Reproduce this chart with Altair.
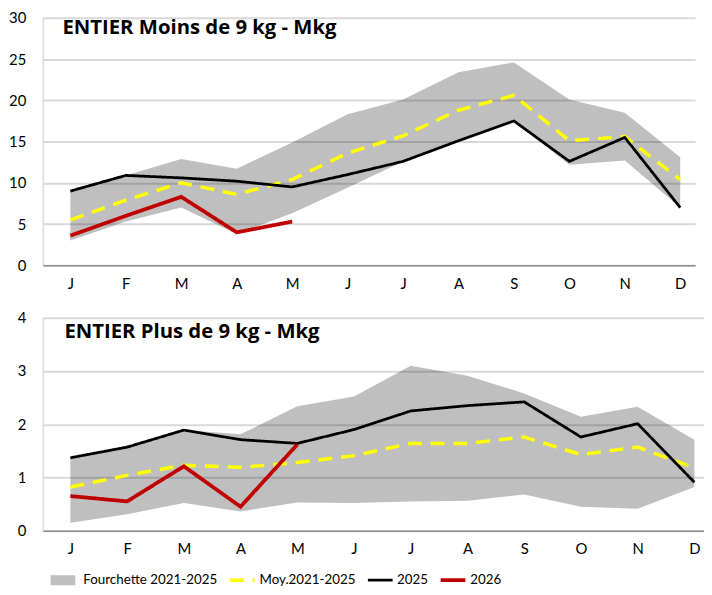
import altair as alt
import pandas as pd

months = ['J', 'F', 'M', 'A', 'M', 'J', 'J', 'A', 'S', 'O', 'N', 'D']
series_names = ['Fourchette 2021-2025', 'Moy.2021-2025', '2025', '2026']
series_colors = ['#bfbfbf', '#ffff00', '#000000', '#c00000']
series_dash = [[1, 0], [14, 9], [1, 0], [1, 0]]
series_width = [10, 3.5, 2.8, 3.8]

title_top = 'ENTIER Moins de 9 kg - Mkg'
top_min = [3.0, 5.3, 7.0, 3.8, 6.3, 9.4, 12.6, 15.1, 17.5, 12.2, 12.7, 7.0]
top_max = [9.0, 10.9, 12.9, 11.7, 14.9, 18.3, 20.1, 23.4, 24.6, 20.1, 18.5, 13.1]
top_avg = [5.5, 7.9, 10.0, 8.6, 10.4, 13.6, 15.7, 18.8, 20.6, 15.1, 15.6, 10.4]
top_2025 = [9.0, 10.9, 10.6, 10.2, 9.5, 11.0, 12.6, 15.1, 17.5, 12.6, 15.5, 7.0]
top_2026 = [3.6, 6.0, 8.3, 4.0, 5.3]

title_bot = 'ENTIER Plus de 9 kg - Mkg'
bot_min = [0.15, 0.31, 0.52, 0.36, 0.53, 0.52, 0.55, 0.56, 0.68, 0.45, 0.41, 0.82]
bot_max = [1.38, 1.58, 1.89, 1.81, 2.34, 2.52, 3.10, 2.91, 2.58, 2.14, 2.33, 1.71]
bot_avg = [0.82, 1.04, 1.23, 1.19, 1.28, 1.41, 1.64, 1.64, 1.76, 1.43, 1.57, 1.18]
bot_2025 = [1.37, 1.57, 1.89, 1.71, 1.64, 1.90, 2.25, 2.35, 2.42, 1.76, 2.01, 0.91]
bot_2026 = [0.65, 0.55, 1.21, 0.45, 1.62]

FONT = 'Lato, sans-serif'
TFONT = 'Open Sans, sans-serif'

color_enc = alt.Color('series:N', title=None,
                      scale=alt.Scale(domain=series_names, range=series_colors))
dash_enc = alt.StrokeDash('series:N', title=None,
                          scale=alt.Scale(domain=series_names, range=series_dash))
width_enc = alt.StrokeWidth('series:N', title=None,
                            scale=alt.Scale(type='ordinal', domain=series_names,
                                            range=series_width))

label_expr = '[' + ','.join(f"'{m}'" for m in months) + '][datum.value]'


def panel(title, mn, mx, avg, y25, y26, ymax, ystep, width, height, xdom, dx, toff):
    band = pd.DataFrame({'i': list(range(12)), 'lo': mn, 'hi': mx})
    rows = []
    for name, vals in [('Moy.2021-2025', avg), ('2025', y25), ('2026', y26)]:
        for i, v in enumerate(vals):
            rows.append({'i': i, 'v': v, 'series': name})
    lines = pd.DataFrame(rows)
    x = alt.X('i:Q', scale=alt.Scale(domain=xdom, nice=False, zero=False),
              axis=alt.Axis(values=list(range(12)), labelExpr=label_expr, ticks=False,
                            grid=False, title=None, domainColor='#8c8c8c', domainWidth=1.5,
                            labelPadding=11, labelFont=FONT, labelFontSize=15, labelColor='#000'))
    yscale = alt.Scale(domain=[0, ymax], nice=False)
    yaxis = alt.Axis(values=[k * ystep for k in range(int(round(ymax / ystep)) + 1)], ticks=False,
                     format='d', title=None, domainColor='#d9d9d9', domainWidth=1.5,
                     gridColor='#d9d9d9', gridWidth=2, labelPadding=17, labelFont=FONT,
                     labelFontSize=15, labelColor='#000')
    grid = alt.Chart(band).mark_area(opacity=0).encode(
        x=x, y=alt.Y('lo:Q', scale=yscale, axis=yaxis))
    area = alt.Chart(band).mark_area(fill='#000000', fillOpacity=0.25).encode(
        x=x, y=alt.Y('lo:Q', scale=yscale), y2='hi:Q')
    layers = [grid, area]
    for name in series_names[1:]:
        layers.append(alt.Chart(lines).transform_filter(f"datum.series === '{name}'").mark_line(
        ).encode(x=x, y=alt.Y('v:Q', scale=yscale), color=color_enc, strokeDash=dash_enc,
                 strokeWidth=width_enc))
    return alt.layer(*layers).properties(
        width=width, height=height,
        title=alt.TitleParams(title, anchor='start', frame='group', orient='top', offset=toff,
                              dx=dx, font=TFONT, fontSize=20.5, fontWeight='bold', color='#000'))


top = panel(title_top, top_min, top_max, top_avg, top_2025, top_2026, 30, 5, 659, 250,
            [-0.5, 11.268], 20, -28)
bot = panel(title_bot, bot_min, bot_max, bot_avg, bot_2025, bot_2026, 4, 1, 668, 215,
            [-0.489, 11.17], 22, -32)

chart = alt.ConcatChart(concat=[top, bot], columns=1, align='none', spacing=20).resolve_scale(
    color='shared', strokeDash='shared', strokeWidth='shared'
).properties(padding={'left': 0, 'top': 0, 'right': 0, 'bottom': 0}
).configure_view(stroke=None).configure_legend(
    orient='none', direction='horizontal', legendX=3, legendY=560,
    labelFont=FONT, labelFontSize=13.5, labelColor='#000', labelLimit=0, symbolSize=625,
    symbolType='stroke', columnPadding=10, labelOffset=3, symbolOpacity=1, clipHeight=16
)

chart.save('out.html', embed_options={'renderer': 'svg', 'actions': False})
